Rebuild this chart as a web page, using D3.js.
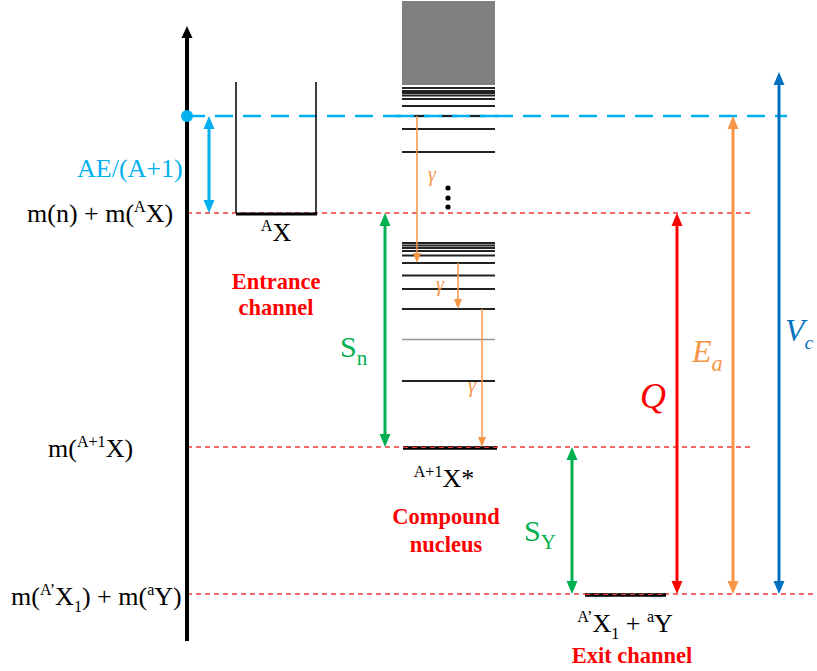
<!DOCTYPE html>
<html><head><meta charset="utf-8">
<script src="https://cdn.jsdelivr.net/npm/d3@7"></script>
<style>body{margin:0;background:#fff}svg{display:block}text{font-family:"Liberation Serif","Times New Roman",serif}</style>
</head><body><svg id="c" width="817" height="671"></svg>
<script>
// Energy scale: 0 = exit channel ground state (arbitrary units, larger = higher)
const channelNames = ["beam", "entrance", "compound", "exit"];
const channelEnergy = [478, 381, 147, 0];
const continuumRange = [509, 593];
const upperLevels = [506, 503, 501, 498.5, 495, 488, 478, 465, 442];
const lowerLevels = [351, 348.5, 346, 343, 338.5, 331, 318.5, 305, 285, 213];
const greyLevels = [254.5];
const gammaFrom = [478, 331, 285];
const gammaTo = [331, 285, 147];
const axisTop = 568, axisBottom = -47, wellTop = 512;
const dotsEnergy = [406, 396, 387];

const svg = d3.select("#c");
const y = d3.scaleLinear().domain([0, 594]).range([594, 0]);
const x = d3.scaleLinear().domain([0, 817]).range([0, 817]);

const E = (n) => channelEnergy[channelNames.indexOf(n)];

function arrowHead(px, py, dir, color, w, l) {
  svg.append("path")
    .attr("d", `M${px},${py} L${px - w / 2},${py - dir * l} L${px + w / 2},${py - dir * l} Z`)
    .attr("fill", color);
}
function vArrow(xp, e1, e2, color, sw, startHead, endHead, hw, hl) {
  const y1 = y(e1), y2 = y(e2);
  const d = y2 > y1 ? 1 : -1;
  svg.append("line").attr("x1", xp).attr("x2", xp)
    .attr("y1", startHead ? y1 + d * hl * 0.8 : y1)
    .attr("y2", endHead ? y2 - d * hl * 0.8 : y2)
    .attr("stroke", color).attr("stroke-width", sw);
  if (endHead) arrowHead(xp, y2, d, color, hw, hl);
  if (startHead) arrowHead(xp, y1, -d, color, hw, hl);
}

// dashed reference lines
svg.append("line").attr("x1", x(187)).attr("x2", x(787)).attr("y1", y(E("beam"))).attr("y2", y(E("beam")))
  .attr("stroke", "#00b0f0").attr("stroke-width", 2.5).attr("stroke-dasharray", "18,10");
[["entrance", 751], ["compound", 751], ["exit", 817]].forEach(([n, xe]) => {
  svg.append("line").attr("x1", x(187)).attr("x2", x(xe)).attr("y1", y(E(n))).attr("y2", y(E(n)))
    .attr("stroke", "#f03a3a").attr("stroke-width", 1.4).attr("stroke-dasharray", "5,4");
});

// vertical axis
svg.append("line").attr("x1", 187).attr("x2", 187).attr("y1", y(axisTop) + 8).attr("y2", y(axisBottom))
  .attr("stroke", "#000").attr("stroke-width", 4);
arrowHead(187, y(axisTop), -1, "#000", 11, 12);
svg.append("circle").attr("cx", 187).attr("cy", y(E("beam"))).attr("r", 6).attr("fill", "#00b0f0");

// potential well of target
svg.append("path")
  .attr("d", `M236,${y(wellTop)} L236,${y(E("entrance"))} M316,${y(wellTop)} L316,${y(E("entrance"))}`)
  .attr("stroke", "#000").attr("stroke-width", 1.5).attr("fill", "none");
svg.append("line").attr("x1", 236).attr("x2", 317).attr("y1", y(E("entrance")) + 1).attr("y2", y(E("entrance")) + 1)
  .attr("stroke", "#000").attr("stroke-width", 3);

// compound nucleus
svg.append("rect").attr("x", 402).attr("width", 93)
  .attr("y", y(continuumRange[1])).attr("height", y(continuumRange[0]) - y(continuumRange[1]))
  .attr("fill", "#808080");
upperLevels.concat(lowerLevels).forEach(e => {
  svg.append("line").attr("x1", 402).attr("x2", 495).attr("y1", y(e)).attr("y2", y(e))
    .attr("stroke", "#222").attr("stroke-width", 1.8);
});
greyLevels.forEach(e => {
  svg.append("line").attr("x1", 402).attr("x2", 495).attr("y1", y(e)).attr("y2", y(e))
    .attr("stroke", "#999").attr("stroke-width", 1.3);
});
svg.append("line").attr("x1", 390).attr("x2", 500).attr("y1", y(E("beam"))).attr("y2", y(E("beam")))
  .attr("stroke", "#00b0f0").attr("stroke-width", 2.5).attr("stroke-dasharray", "18,10").attr("stroke-dashoffset", -6);
svg.append("line").attr("x1", 403).attr("x2", 497).attr("y1", y(E("compound")) + 1).attr("y2", y(E("compound")) + 1)
  .attr("stroke", "#000").attr("stroke-width", 3.5);
svg.append("line").attr("x1", 403).attr("x2", 497).attr("y1", y(E("compound")) + 0.5).attr("y2", y(E("compound")) + 0.5)
  .attr("stroke", "#f03a3a").attr("stroke-width", 1.2).attr("stroke-dasharray", "5,4");
svg.append("line").attr("x1", 585).attr("x2", 666).attr("y1", y(E("exit")) + 1).attr("y2", y(E("exit")) + 1)
  .attr("stroke", "#000").attr("stroke-width", 3.5);
svg.append("line").attr("x1", 585).attr("x2", 666).attr("y1", y(E("exit")) + 0.5).attr("y2", y(E("exit")) + 0.5)
  .attr("stroke", "#f03a3a").attr("stroke-width", 1.2).attr("stroke-dasharray", "5,4");

dotsEnergy.forEach(e => svg.append("circle").attr("cx", 448).attr("cy", y(e)).attr("r", 2.6).attr("fill", "#000"));

// gamma transitions
const gammaX = [417, 458, 482];
const gammaLab = [[428, 181], [436, 291], [468, 392]];
gammaFrom.forEach((f, i) => {
  vArrow(gammaX[i], f, gammaTo[i], "#f79646", 1.5, false, true, 8, 10);
  svg.append("text").attr("x", gammaLab[i][0]).attr("y", gammaLab[i][1]).attr("font-size", 20)
    .attr("font-style", "italic").attr("fill", "#f79646").text("γ");
});

// energy arrows
vArrow(209, E("beam"), E("entrance"), "#00b0f0", 3, true, true, 11, 13);
vArrow(385, E("entrance"), E("compound"), "#00b050", 3, true, true, 11, 13);
vArrow(572, E("compound"), E("exit"), "#00b050", 3, true, true, 11, 13);
vArrow(677, E("entrance"), E("exit"), "#ff0000", 3, true, true, 11, 13);
vArrow(733, E("beam"), E("exit"), "#f79646", 3, true, true, 11, 13);
vArrow(779, 522, E("exit"), "#0070c0", 3, true, true, 11, 13);

function rich(xp, yp, parts, opts) {
  const t = svg.append("text").attr("x", xp).attr("y", yp).attr("font-size", opts.size)
    .attr("fill", opts.color || "#000").attr("text-anchor", opts.anchor || "start");
  if (opts.italic) t.attr("font-style", "italic");
  if (opts.bold) t.attr("font-weight", "bold");
  let shift = 0;
  parts.forEach(([s, k]) => {
    const sp = t.append("tspan").text(s);
    let target = 0;
    if (k === "sup") { sp.attr("font-size", opts.size * 0.62); target = -opts.size * 0.38; }
    if (k === "sub") { sp.attr("font-size", opts.size * 0.62); target = opts.size * 0.25; }
    if (k === "subL") { sp.attr("font-size", opts.size * 0.7); target = opts.size * 0.28; }
    sp.attr("dy", target - shift); shift = target;
  });
  return t;
}

rich(77, 177, [["AE/(A+1)"]], { size: 26, color: "#00b0f0" });
rich(27, 222, [["m(n) + m("], ["A", "sup"], ["X)"]], { size: 26 });
rich(48, 457, [["m("], ["A+1", "sup"], ["X)"]], { size: 26 });
rich(11, 605, [["m("], ["A’", "sup"], ["X"], ["1", "sub"], [") + m("], ["a", "sup"], ["Y)"]], { size: 26 });

rich(276, 241, [["A", "sup"], ["X"]], { size: 26, anchor: "middle" });
rich(444, 487, [["A+1", "sup"], ["X*"]], { size: 26, anchor: "middle" });
rich(625, 632, [["A’", "sup"], ["X"], ["1", "sub"], [" + "], ["a", "sup"], ["Y"]], { size: 26, anchor: "middle" });

[["Entrance", 276, 289], ["channel", 276, 315], ["Compound", 446, 524], ["nucleus", 446, 552], ["Exit channel", 632, 663]]
  .forEach(([s, xp, yp]) => rich(xp, yp, [[s]], { size: 22.5, bold: true, color: "#ff0000", anchor: "middle" }));

rich(340, 357, [["S"], ["n", "subL"]], { size: 30, color: "#00b050" });
rich(524, 541, [["S"], ["Y", "subL"]], { size: 30, color: "#00b050" });
rich(640, 408, [["Q"]], { size: 36, color: "#ff0000", italic: true });
rich(692, 362, [["E"], ["a", "subL"]], { size: 32, color: "#f79646", italic: true });
rich(785, 341, [["V"], ["c", "sub"]], { size: 32, color: "#0070c0", italic: true });
</script></body></html>
